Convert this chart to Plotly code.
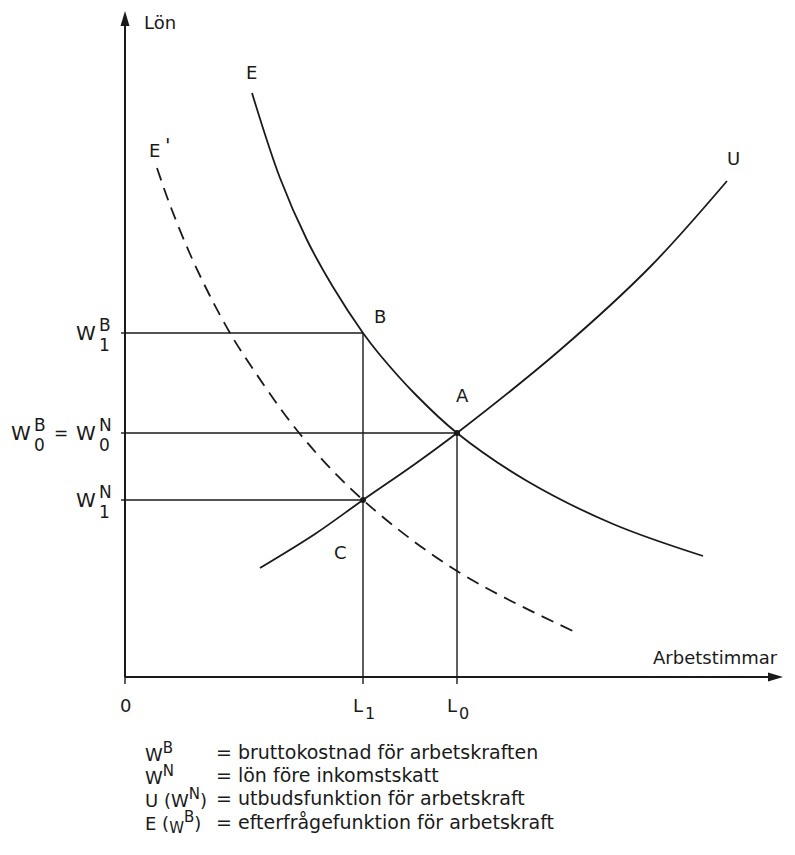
import plotly.graph_objects as go

# ---- data (model units: hours on x, wage on y) ----
L1 = 238
L0 = 332
W1B = 344
W0 = 244
W1N = 177

E_x = [127, 155, 182, 208, 238, 255, 290, 332, 402, 488, 578]
E_y = [584, 499, 437, 390, 344, 322, 283, 244, 196, 153, 121]

U_x = [135, 190, 238, 290, 332, 435, 525, 602]
U_y = [109, 143, 177, 213, 244, 327, 410, 496]

Ep_x = [32, 45, 65, 85, 105, 120, 175, 238, 332, 450]
Ep_y = [509, 472, 423, 381, 344, 320, 243, 177, 106, 45]

SUP = '<sup><span style="font-size:15px">{}</span></sup>'
SUB = '<sub><span style="font-size:15px">{}</span></sub>'
legend_sym = ["W" + SUP.format("B"), "W" + SUP.format("N"), "U (W" + SUP.format("N") + ")",
              "E (" + SUB.format("W") + SUP.format("B") + ")"]
legend_txt = ["= bruttokostnad för arbetskraften", "= lön före inkomstskatt",
              "= utbudsfunktion för arbetskraft", "= efterfrågefunktion för arbetskraft"]

FONT = "DejaVu Sans"
INK = "#1a1a1a"

def at(px, py):
    return px - 125, 677 - py

fig = go.Figure()

def seg(x, y, w=1.4, **kw):
    fig.add_trace(go.Scatter(x=x, y=y, mode="lines", line=dict(color=INK, width=w, **kw),
                             hoverinfo="skip", showlegend=False))

# axes
seg([0, 0], [0, 655], w=2)
seg([0, 648], [0, 0], w=2)

# guide lines
guides = [([0, L1], [W1B, W1B]), ([0, L0], [W0, W0]), ([0, L1], [W1N, W1N]),
          ([L1, L1], [0, W1B]), ([L0, L0], [0, W0])]
for gx, gy in guides:
    seg(gx, gy, w=1.4)

# curves
seg(E_x, E_y, w=1.8, shape="spline", smoothing=1.0)
seg(U_x, U_y, w=1.8, shape="spline", smoothing=1.0)
seg(Ep_x, Ep_y, w=1.8, shape="spline", smoothing=1.0, dash="13px,8px")

# points
fig.add_trace(go.Scatter(x=[L0, L1], y=[W0, W1N], mode="markers", marker=dict(color=INK, size=6),
                         showlegend=False, hoverinfo="skip"))

# ticks
for tx in [0, L1, L0]:
    seg([tx, tx], [0, -7], w=1.4)
for ty in [W1B, W0, W1N]:
    seg([-4, 0], [ty, ty], w=1.4)

shapes = [
    dict(type="path", path="M -4.5,651 L 0,666 L 4.5,651 Z", fillcolor=INK, line=dict(width=0), xref="x", yref="y"),
    dict(type="path", path="M 643,-4.5 L 658,0 L 643,4.5 Z", fillcolor=INK, line=dict(width=0), xref="x", yref="y"),
]

ann = []

def txt(px, py, s, size=18, xa="center", ya="middle"):
    x, y = at(px, py)
    ann.append(dict(x=x, y=y, xref="x", yref="y", text=s, showarrow=False, xanchor=xa, yanchor=ya,
                    font=dict(family=FONT, size=size, color=INK)))

txt(142, 22, "Lön", xa="left")
txt(251, 72, "E")
txt(154, 150, "E")
txt(168, 145, "'", size=20)
txt(733, 158, "U")
txt(380, 316, "B")
txt(462, 395, "A")
txt(340, 552, "C")
txt(780, 657, "Arbetstimmar", xa="right")
txt(125, 705, "0")
# L1, L0
txt(358, 705, "L", size=18)
txt(370, 713, "1", size=16)
txt(452, 705, "L", size=18)
txt(464, 713, "0", size=16)

# y labels
def wlab(px_right, py, sup, sub):
    txt(px_right, py, "W", size=20, xa="right")
    txt(px_right - 1, py - 8, sup, size=17, xa="left")
    txt(px_right - 1, py + 12, sub, size=17, xa="left")

wlab(98, 333, "B", "1")
wlab(33, 433, "B", "0")
txt(61, 433, "=", size=17)
wlab(98, 433, "N", "0")
wlab(98, 500, "N", "1")

# legend
rows_y = [752, 775, 798, 822]
for s, t, ry in zip(legend_sym, legend_txt, rows_y):
    txt(143, ry, s, size=18, xa="left")
    txt(214, ry, t, size=19, xa="left")

# page has an 8px body margin: figure spans page px 8..787 x 8..847
fig.update_layout(
    width=779, height=839, autosize=False,
    margin=dict(l=0, r=0, t=0, b=0),
    paper_bgcolor="white", plot_bgcolor="white",
    xaxis=dict(range=[-117, 662], visible=False, fixedrange=True),
    yaxis=dict(range=[-170, 669], visible=False, fixedrange=True),
    annotations=ann, shapes=shapes, showlegend=False,
)
fig.write_html("out.html", config={"displayModeBar": False})
